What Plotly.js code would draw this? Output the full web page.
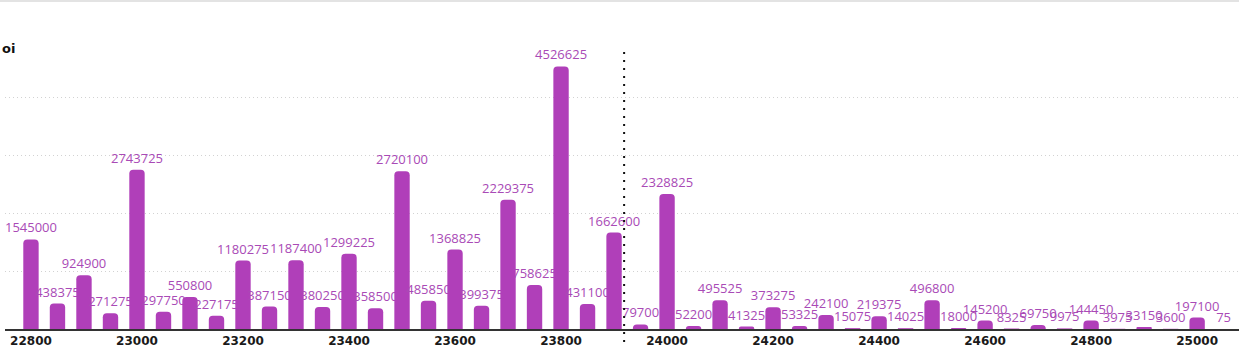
<!DOCTYPE html>
<html>
<head>
<meta charset="utf-8">
<script src="https://cdn.plot.ly/plotly-3.0.1.min.js"></script>
<style>
  html, body { margin: 0; padding: 0; background: #fff; }
  #chart { width: 1239px; height: 353px; }
</style>
</head>
<body>
<div id="chart"></div>
<script>
const strikes = [22800, 22850, 22900, 22950, 23000, 23050, 23100, 23150, 23200, 23250,
  23300, 23350, 23400, 23450, 23500, 23550, 23600, 23650, 23700, 23750,
  23800, 23850, 23900, 23950, 24000, 24050, 24100, 24150, 24200, 24250,
  24300, 24350, 24400, 24450, 24500, 24550, 24600, 24650, 24700, 24750,
  24800, 24850, 24900, 24950, 25000, 25050];
const oiValues = [1545000, 438375, 924900, 271275, 2743725, 297750, 550800, 227175, 1180275, 387150,
  1187400, 380250, 1299225, 358500, 2720100, 485850, 1368825, 399375, 2229375, 758625,
  4526625, 431100, 1662600, 79700, 2328825, 52200, 495525, 41325, 373275, 53325,
  242100, 15075, 219375, 14025, 496800, 18000, 145200, 8325, 69750, 9975,
  144450, 3975, 33150, 3600, 197100, 75];
const tickValues = [22800, 23000, 23200, 23400, 23600, 23800, 24000, 24200, 24400, 24600, 24800, 25000];
const tickLabels = tickValues.map(String);
const spotPrice = 23919;
const yTitle = "oi";

const trace = {
  type: 'bar',
  x: strikes,
  y: oiValues,
  text: oiValues.map(String),
  textposition: 'outside',
  constraintext: 'none',
  cliponaxis: false,
  textfont: { family: 'Open Sans, sans-serif', size: 13, color: '#a94ab6' },
  marker: { color: '#b03fb9', line: { width: 0 } },
  hoverinfo: 'x+y'
};

const plotW = 1234, plotH = 277;
const layout = {
  width: 1239,
  height: 353,
  margin: { l: 5, r: 0, t: 52, b: 24 },
  paper_bgcolor: '#ffffff',
  plot_bgcolor: '#ffffff',
  showlegend: false,
  bargap: 0.42,
  barcornerradius: 4,
  font: { family: 'Open Sans, sans-serif', color: '#222' },
  xaxis: {
    range: [22751, 25079],
    tickmode: 'array',
    tickvals: tickValues,
    ticktext: tickLabels,
    tickfont: { family: 'DejaVu Sans, sans-serif', size: 12, color: '#1a1a1a', weight: 'bold' },
    showgrid: false,
    zeroline: false,
    showline: true,
    linecolor: '#333',
    linewidth: 2,
    ticks: ''
  },
  yaxis: {
    range: [0, 4776000],
    dtick: 1000000,
    tick0: 0,
    showticklabels: false,
    showgrid: true,
    gridcolor: '#d2d2d2',
    gridwidth: 1,
    griddash: '1px,3px',
    zeroline: false,
    showline: false,
    ticks: ''
  },
  shapes: [
    {
      type: 'line', xref: 'x', yref: 'paper',
      x0: spotPrice, x1: spotPrice, y0: -13 / plotH, y1: 1,
      line: { color: '#111', width: 2, dash: '2px,6px' }
    },
    {
      type: 'line', xref: 'paper', yref: 'paper',
      x0: -5 / plotW, x1: 1, y0: 328 / plotH, y1: 328 / plotH,
      line: { color: '#e3e3e3', width: 2 }
    }
  ],
  annotations: [
    {
      text: yTitle, xref: 'paper', yref: 'paper',
      x: -5 / plotW, y: (329 - 48) / plotH,
      xanchor: 'left', yanchor: 'middle', showarrow: false,
      font: { family: 'DejaVu Sans, sans-serif', size: 13, color: '#111', weight: 'bold' }
    }
  ]
};

Plotly.newPlot('chart', [trace], layout, { displayModeBar: false, staticPlot: true });
</script>
</body>
</html>
